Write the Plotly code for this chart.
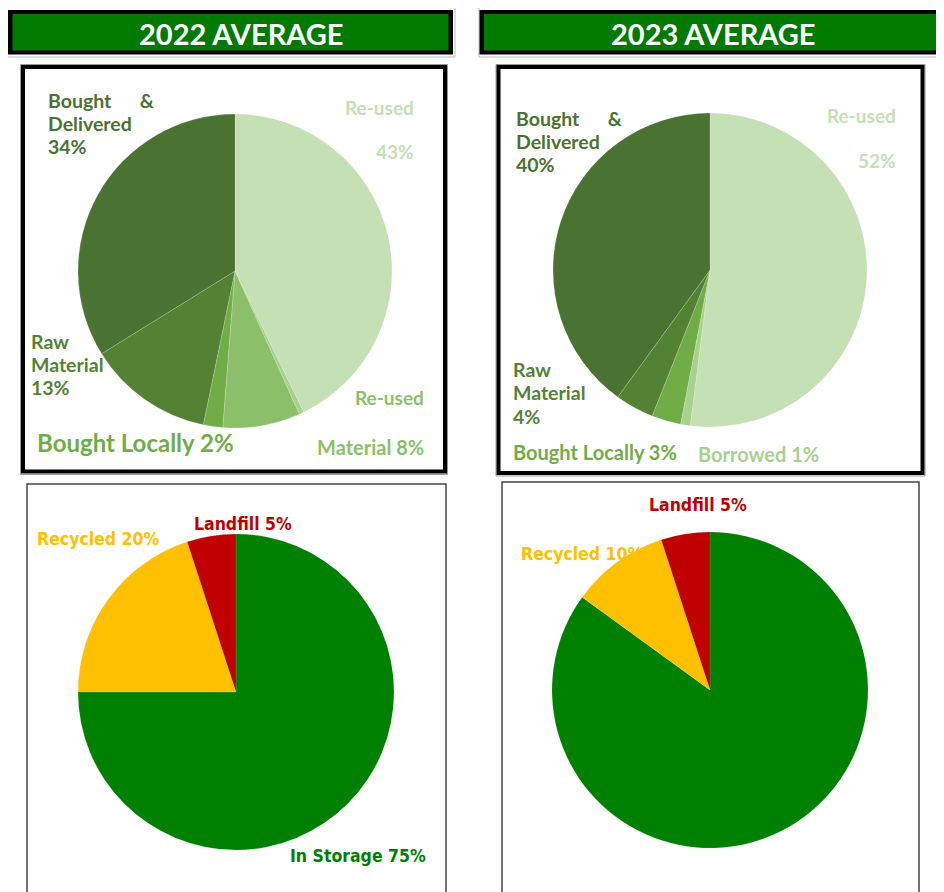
import plotly.graph_objects as go

# The page adds an 8px body margin; draw in a 936x884 figure and map reference pixels accordingly.
OFF = 8
W, H = 944 - OFF, 892 - OFF

# ---------------- data ----------------
years = ["2022", "2023"]
header_texts = ["2022 AVERAGE", "2023 AVERAGE"]

src_cats_2022 = ["Re-used", "Borrowed", "Re-used Material", "Bought Locally", "Raw Material", "Bought & Delivered"]
src_vals_2022 = [43, 0.5, 8, 2, 13, 34]
src_cats_2023 = ["Re-used", "Borrowed", "Bought Locally", "Raw Material", "Bought & Delivered"]
src_vals_2023 = [52, 1, 3, 4, 40]

src_colors = {
    "Re-used": "#C5E0B4",
    "Borrowed": "#A9D18E",
    "Re-used Material": "#8CBF6A",
    "Bought Locally": "#70AD47",
    "Raw Material": "#548235",
    "Bought & Delivered": "#4A7230",
}

end_cats = ["In Storage", "Recycled", "Landfill"]
end_vals_2022 = [75, 20, 5]
end_vals_2023 = [85, 10, 5]
end_colors = {"In Storage": "#008000", "Recycled": "#FFC000", "Landfill": "#C00000"}


def pct(cats, vals, name):
    return f"{round(vals[cats.index(name)]):d}%"


# ---------------- helpers ----------------
def px(x):
    return (x - OFF) / W


def py(y):
    return 1 - (y - OFF) / H


def dom(cx, cy, r):
    return dict(x=[px(cx - r), px(cx + r)], y=[py(cy + r), py(cy - r)])


fig = go.Figure()

pie_common = dict(sort=False, direction="clockwise", rotation=0, textinfo="none",
                  hoverinfo="label+percent", showlegend=False)

fig.add_trace(go.Pie(labels=src_cats_2022, values=src_vals_2022,
                     marker=dict(colors=[src_colors[c] for c in src_cats_2022],
                                 line=dict(color="rgba(255,255,255,0.3)", width=0.6)),
                     domain=dom(235, 271, 157), **pie_common))
fig.add_trace(go.Pie(labels=src_cats_2023, values=src_vals_2023,
                     marker=dict(colors=[src_colors[c] for c in src_cats_2023],
                                 line=dict(color="rgba(255,255,255,0.3)", width=0.6)),
                     domain=dom(710, 270, 157), **pie_common))
fig.add_trace(go.Pie(labels=end_cats, values=end_vals_2022,
                     marker=dict(colors=[end_colors[c] for c in end_cats],
                                 line=dict(color="rgba(255,255,255,0.2)", width=0.5)),
                     domain=dom(236, 692, 158), **pie_common))
fig.add_trace(go.Pie(labels=end_cats, values=end_vals_2023,
                     marker=dict(colors=[end_colors[c] for c in end_cats],
                                 line=dict(color="rgba(255,255,255,0.2)", width=0.5)),
                     domain=dom(710, 690, 158), **pie_common))

shapes = []


def rect(x0, y0, x1, y1, line_color=None, line_width=0, fill=None, layer="above", label=None):
    s = dict(type="rect", xref="paper", yref="paper",
             x0=px(x0), x1=px(x1), y0=py(y1), y1=py(y0),
             line=dict(color=line_color or "rgba(0,0,0,0)", width=line_width),
             fillcolor=fill or "rgba(0,0,0,0)", layer=layer)
    if label:
        s["label"] = label
    shapes.append(s)


# headers
for (x0, x1) in [(7, 455), (479, 946)]:
    rect(x0, 7, x1, 57, line_color="#BBBBBB", line_width=1)
rect(8, 10, 453, 54.5, fill="#000000")
rect(12.5, 14, 448.5, 50.5, fill="#007A00")
rect(479.5, 10, 943, 54.5, fill="#000000")
rect(484, 14, 938, 50.5, fill="#007A00")

# top boxes
rect(20.5, 64.5, 447.5, 474.5, line_color="#999999", line_width=1)
rect(23, 67, 445, 471.5, line_color="#000000", line_width=4)
rect(496, 64.5, 925, 476, line_color="#999999", line_width=1)
rect(498.5, 67, 922.5, 473, line_color="#000000", line_width=4)

# bottom boxes
rect(27, 484, 446, 900, line_color="#444444", line_width=1.5)
rect(502, 482, 919, 900, line_color="#444444", line_width=1.5)

annotations = []


def txt(text, x, y, color, size, family, xanchor="left", bold=True):
    annotations.append(dict(text=f"<b>{text}</b>" if bold else text,
                            x=px(x), y=py(y), xref="paper", yref="paper",
                            xanchor=xanchor, yanchor="middle", showarrow=False,
                            font=dict(color=color, size=size, family=family)))


TOPF = "Lato, 'Open Sans', sans-serif"
BOTF = "'DejaVu Sans Condensed', 'Liberation Sans Narrow', 'DejaVu Sans', sans-serif"
NB = "\u00a0"

# headers
txt(header_texts[0], 241, 33, "white", 29, TOPF, xanchor="center")
txt(header_texts[1], 713, 33, "white", 29, TOPF, xanchor="center")

# 2022 source labels
c = src_colors
txt("Bought" + NB * 6 + "&", 46, 101, c["Bought & Delivered"], 19.5, TOPF)
txt("Delivered", 46, 124, c["Bought & Delivered"], 19.5, TOPF)
txt(pct(src_cats_2022, src_vals_2022, "Bought & Delivered"), 46, 146, c["Bought & Delivered"], 19.5, TOPF)
txt("Re-used", 416, 107, c["Re-used"], 19, TOPF, xanchor="right")
txt(pct(src_cats_2022, src_vals_2022, "Re-used"), 416, 152, c["Re-used"], 19, TOPF, xanchor="right")
txt("Raw", 29, 341, c["Raw Material"], 19.5, TOPF)
txt("Material", 29, 364, c["Raw Material"], 19.5, TOPF)
txt(pct(src_cats_2022, src_vals_2022, "Raw Material"), 29, 387, c["Raw Material"], 19.5, TOPF)
txt("Bought Locally " + pct(src_cats_2022, src_vals_2022, "Bought Locally"), 35, 442,
    c["Bought Locally"], 24, TOPF)
txt("Re-used", 426, 397, c["Re-used Material"], 19, TOPF, xanchor="right")
txt("Material " + pct(src_cats_2022, src_vals_2022, "Re-used Material"), 426, 447,
    c["Re-used Material"], 20, TOPF, xanchor="right")

# 2023 source labels
txt("Bought" + NB * 6 + "&", 514, 118, c["Bought & Delivered"], 19.5, TOPF)
txt("Delivered", 514, 141, c["Bought & Delivered"], 19.5, TOPF)
txt(pct(src_cats_2023, src_vals_2023, "Bought & Delivered"), 514, 164, c["Bought & Delivered"], 19.5, TOPF)
txt("Re-used", 898, 115, c["Re-used"], 19, TOPF, xanchor="right")
txt(pct(src_cats_2023, src_vals_2023, "Re-used"), 898, 160, c["Re-used"], 19, TOPF, xanchor="right")
txt("Raw", 511, 369, c["Raw Material"], 19.5, TOPF)
txt("Material", 511, 392, c["Raw Material"], 19.5, TOPF)
txt(pct(src_cats_2023, src_vals_2023, "Raw Material"), 511, 416, c["Raw Material"], 19.5, TOPF)
txt("Bought Locally " + pct(src_cats_2023, src_vals_2023, "Bought Locally"), 511, 452,
    c["Bought Locally"], 20, TOPF)
txt("Borrowed " + pct(src_cats_2023, src_vals_2023, "Borrowed"), 696, 454,
    c["Borrowed"], 20, TOPF)

# 2022 end-of-life labels
e = end_colors
txt("Recycled " + pct(end_cats, end_vals_2022, "Recycled"), 35, 539, e["Recycled"], 17.5, BOTF)
txt("Landfill " + pct(end_cats, end_vals_2022, "Landfill"), 192, 524, e["Landfill"], 17.5, BOTF)
txt("In Storage " + pct(end_cats, end_vals_2022, "In Storage"), 288, 856, e["In Storage"], 17.5, BOTF)

# 2023 end-of-life labels
txt("Landfill " + pct(end_cats, end_vals_2023, "Landfill"), 647, 505, e["Landfill"], 17.5, BOTF)
# Recycled label sits underneath the pie (partly covered), drawn as a below-layer shape label
rect(515, 543, 700, 561, layer="below",
     label=dict(text="<b>Recycled " + pct(end_cats, end_vals_2023, "Recycled") + "</b>",
                textposition="middle left", padding=3,
                font=dict(color=e["Recycled"], size=17.5, family=BOTF)))

fig.update_layout(width=W, height=H, margin=dict(l=0, r=0, t=0, b=0),
                  paper_bgcolor="white", plot_bgcolor="white",
                  shapes=shapes, annotations=annotations)

fig.write_html("out.html")
